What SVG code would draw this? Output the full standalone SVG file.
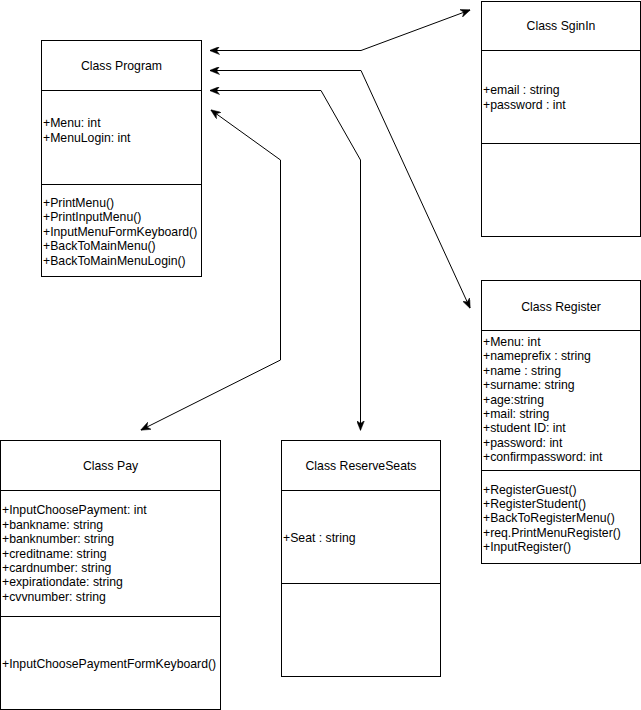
<svg xmlns="http://www.w3.org/2000/svg" width="641" height="710" viewBox="0 0 641 710">
<defs>
<style>
.box{fill:#fff;stroke:#000;stroke-width:1}
.ln{stroke:#000;stroke-width:1;fill:none}
.t{font-family:"Liberation Sans",Arial,sans-serif;font-size:12.25px;fill:#000}
.c{text-anchor:middle}
.edge{stroke:#000;stroke-width:1;fill:none}
</style>
<marker id="arr" viewBox="0 0 10 8" refX="9.5" refY="4" markerWidth="10" markerHeight="8" markerUnits="userSpaceOnUse" orient="auto-start-reverse">
<path d="M0,0 L10,4 L0,8 L3,4 z" fill="#000" stroke="#000" stroke-width="0.5"/>
</marker>
</defs>
<rect width="641" height="710" fill="#fff"/>

<g id="program">
<rect class="box" x="41.5" y="40.5" width="160" height="236"/>
<line class="ln" x1="41.5" y1="90.5" x2="201.5" y2="90.5"/>
<line class="ln" x1="41.5" y1="184.5" x2="201.5" y2="184.5"/>
<text class="t c" x="121.5" y="70">Class Program</text>
<text class="t" x="43" y="127">+Menu: int</text>
<text class="t" x="43" y="142">+MenuLogin: int</text>
<text class="t" x="43" y="207">+PrintMenu()</text>
<text class="t" x="43" y="221.4">+PrintInputMenu()</text>
<text class="t" x="43" y="235.8">+InputMenuFormKeyboard()</text>
<text class="t" x="43" y="250.2">+BackToMainMenu()</text>
<text class="t" x="43" y="264.6">+BackToMainMenuLogin()</text>
</g>

<g id="sginin">
<rect class="box" x="481.5" y="1.5" width="159" height="235"/>
<line class="ln" x1="481.5" y1="50.5" x2="640.5" y2="50.5"/>
<line class="ln" x1="481.5" y1="143.5" x2="640.5" y2="143.5"/>
<text class="t c" x="561" y="30">Class SginIn</text>
<text class="t" x="483" y="94.3">+email : string</text>
<text class="t" x="483" y="109.3">+password : int</text>
</g>

<g id="register">
<rect class="box" x="481.5" y="280.5" width="159" height="283"/>
<line class="ln" x1="481.5" y1="330.5" x2="640.5" y2="330.5"/>
<line class="ln" x1="481.5" y1="470.5" x2="640.5" y2="470.5"/>
<text class="t c" x="561" y="311">Class Register</text>
<text class="t" x="483" y="346">+Menu: int</text>
<text class="t" x="483" y="360.4">+nameprefix : string</text>
<text class="t" x="483" y="374.8">+name : string</text>
<text class="t" x="483" y="389.2">+surname: string</text>
<text class="t" x="483" y="403.6">+age:string</text>
<text class="t" x="483" y="418">+mail: string</text>
<text class="t" x="483" y="432.4">+student ID: int</text>
<text class="t" x="483" y="446.8">+password: int</text>
<text class="t" x="483" y="461.2">+confirmpassword: int</text>
<text class="t" x="483" y="493.6">+RegisterGuest()</text>
<text class="t" x="483" y="508">+RegisterStudent()</text>
<text class="t" x="483" y="522.4">+BackToRegisterMenu()</text>
<text class="t" x="483" y="536.8">+req.PrintMenuRegister()</text>
<text class="t" x="483" y="551.2">+InputRegister()</text>
</g>

<g id="pay">
<rect class="box" x="0.5" y="440.5" width="220" height="269"/>
<line class="ln" x1="0.5" y1="490.5" x2="220.5" y2="490.5"/>
<line class="ln" x1="0.5" y1="616.5" x2="220.5" y2="616.5"/>
<text class="t c" x="110.5" y="470">Class Pay</text>
<text class="t" x="2" y="514.4">+InputChoosePayment: int</text>
<text class="t" x="2" y="528.8">+bankname: string</text>
<text class="t" x="2" y="543.2">+banknumber: string</text>
<text class="t" x="2" y="557.6">+creditname: string</text>
<text class="t" x="2" y="572">+cardnumber: string</text>
<text class="t" x="2" y="586.4">+expirationdate: string</text>
<text class="t" x="2" y="600.8">+cvvnumber: string</text>
<text class="t" x="2" y="668.3">+InputChoosePaymentFormKeyboard()</text>
</g>

<g id="reserveseats">
<rect class="box" x="281.5" y="440.5" width="159" height="236"/>
<line class="ln" x1="281.5" y1="490.5" x2="440.5" y2="490.5"/>
<line class="ln" x1="281.5" y1="583.5" x2="440.5" y2="583.5"/>
<text class="t c" x="361" y="470">Class ReserveSeats</text>
<text class="t" x="283" y="542">+Seat : string</text>
</g>

<g id="connectors">
<path class="edge" d="M210,50.5 L361,50.5 L470,10" marker-start="url(#arr)" marker-end="url(#arr)"/>
<path class="edge" d="M210,70.5 L361,70.5 L470,308" marker-start="url(#arr)" marker-end="url(#arr)"/>
<path class="edge" d="M210,90.5 L321,90.5 L360.5,160 L360.5,430" marker-start="url(#arr)" marker-end="url(#arr)"/>
<path class="edge" d="M211,110 L280.5,160 L280.5,360 L141,430" marker-start="url(#arr)" marker-end="url(#arr)"/>
</g>
</svg>
